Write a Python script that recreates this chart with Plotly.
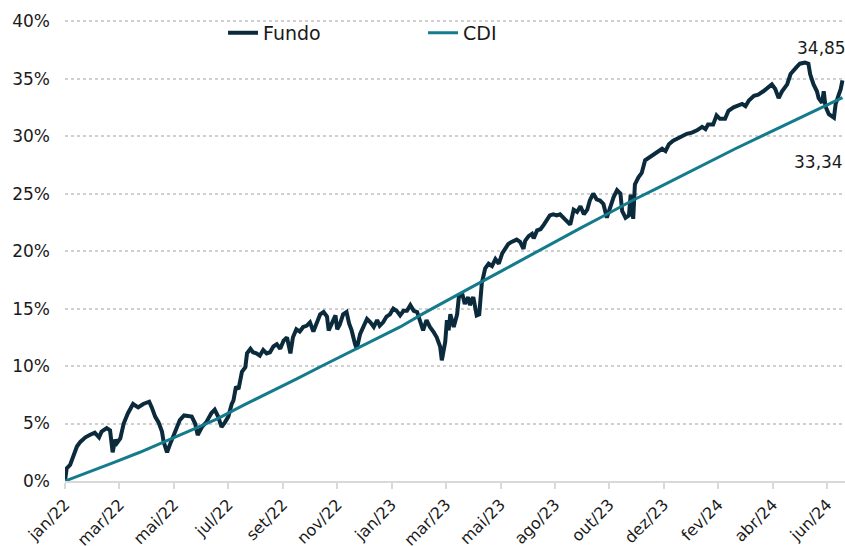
import pandas as pd
import plotly.graph_objects as go

start_date = "2022-01-03"

# Fundo: days since start, cumulative return (%)
fundo_days = [0, 2, 6, 10, 14, 18, 24, 29, 35, 40, 43, 49, 53, 56, 59, 61, 65, 69, 74, 80,
              86, 92, 99, 102, 106, 110, 114, 116, 120, 123, 129, 135, 140, 145, 149, 153, 156, 161, 166, 172,
              176, 180, 184, 188, 192, 196, 198, 201, 204, 208, 212, 214, 218, 221, 225, 229, 233, 237, 241, 245,
              249, 253, 257, 261, 265, 268, 272, 276, 280, 284, 288, 292, 296, 300, 304, 308, 310, 314, 318, 320,
              323, 327, 331, 334, 337, 341, 343, 347, 351, 355, 359, 363, 367, 370, 374, 378, 382, 386, 390, 394,
              398, 402, 406, 410, 414, 417, 421, 425, 429, 433, 437, 441, 443, 447, 449, 451, 453, 457, 461, 463,
              467, 470, 474, 476, 480, 484, 487, 490, 494, 498, 502, 506, 510, 514, 518, 521, 525, 531, 535, 539,
              541, 545, 549, 551, 555, 559, 563, 566, 570, 574, 578, 582, 586, 590, 594, 598, 602, 606, 610, 614,
              617, 621, 625, 629, 633, 637, 641, 645, 649, 653, 655, 659, 663, 665, 668, 670, 674, 678, 682, 686,
              692, 698, 702, 706, 710, 715, 723, 731, 737, 743, 749, 753, 756, 762, 766, 770, 776, 780, 786, 790,
              796, 800, 804, 810, 815, 821, 827, 831, 835, 839, 843, 849, 853, 856, 860, 864, 870, 874, 876, 880,
              884, 886, 890, 892, 894, 898, 904, 906, 910, 912, 914]
fundo_values = [0.0, 1.1, 1.4, 2.1, 3.0, 3.4, 3.8, 4.0, 4.2, 3.8, 4.3, 4.6, 4.4, 2.5, 3.6, 3.3, 3.7, 5.0, 5.9, 6.7,
                6.4, 6.7, 6.9, 6.4, 5.6, 5.1, 4.3, 3.4, 2.5, 3.1, 4.1, 5.3, 5.7, 5.6, 5.6, 5.0, 4.0, 4.7, 5.1, 5.9,
                6.2, 5.6, 4.7, 5.1, 5.6, 6.7, 7.0, 8.2, 8.0, 9.5, 9.9, 11.1, 11.5, 11.2, 11.1, 10.9, 11.4, 11.1, 11.2, 11.7,
                11.9, 11.5, 12.2, 12.5, 11.1, 12.5, 13.2, 13.0, 13.4, 13.5, 13.8, 13.0, 13.7, 14.5, 14.7, 14.3, 13.1, 13.7, 14.4, 13.2,
                13.6, 14.5, 14.7, 13.7, 13.1, 11.9, 11.5, 12.8, 13.4, 14.1, 13.8, 13.4, 14.0, 13.5, 13.8, 14.3, 14.5, 15.0, 14.8, 14.4,
                14.8, 14.8, 15.3, 14.8, 14.7, 14.1, 13.1, 14.0, 13.4, 13.0, 12.5, 11.7, 10.5, 12.1, 14.0, 13.1, 14.5, 13.4, 14.5, 16.0,
                16.3, 15.4, 16.0, 15.3, 16.0, 14.4, 14.5, 17.2, 18.5, 18.9, 18.7, 19.3, 18.9, 19.8, 20.3, 20.6, 20.8, 21.0, 20.8, 20.2,
                20.9, 21.3, 21.5, 21.1, 21.8, 21.9, 22.3, 22.6, 23.1, 23.2, 23.1, 23.2, 22.9, 22.5, 22.3, 23.6, 23.4, 23.9, 23.2, 23.6,
                24.4, 25.0, 24.5, 24.4, 24.1, 22.9, 23.8, 24.7, 25.3, 25.0, 23.5, 22.9, 23.1, 24.9, 22.8, 25.8, 26.4, 26.8, 27.9, 28.1,
                28.4, 28.7, 28.9, 28.7, 29.3, 29.6, 29.9, 30.2, 30.3, 30.5, 30.8, 30.6, 31.0, 31.0, 31.8, 31.5, 31.5, 32.2, 32.5, 32.6,
                32.8, 32.6, 33.1, 33.5, 33.6, 33.9, 34.2, 34.5, 34.1, 33.3, 33.9, 34.5, 35.4, 35.7, 36.0, 36.3, 36.4, 36.3, 35.4, 34.5,
                33.9, 33.3, 32.9, 33.9, 32.6, 31.9, 31.6, 32.8, 33.6, 34.1, 34.85]

# CDI: days since start, cumulative return (%)
cdi_days = [0, 29, 57, 88, 119, 149, 179, 210, 241, 273, 302, 332, 364, 394, 422, 455,
            484, 514, 546, 575, 606, 637, 667, 697, 729, 759, 788, 819, 850, 882, 914]
cdi_values = [0.0, 0.8, 1.6, 2.5, 3.5, 4.4, 5.4, 6.6, 7.7, 8.9, 10.0, 11.1, 12.3, 13.4, 14.6, 15.9,
              17.1, 18.3, 19.6, 20.8, 22.0, 23.2, 24.4, 25.5, 26.7, 27.8, 28.9, 30.0, 31.1, 32.2, 33.34]

tick_labels = ["jan/22", "mar/22", "mai/22", "jul/22", "set/22", "nov/22", "jan/23", "mar/23",
               "mai/23", "ago/23", "out/23", "dez/23", "fev/24", "abr/24", "jun/24"]
tick_step_days = 64
y_ticks = [0, 5, 10, 15, 20, 25, 30, 35, 40]

start = pd.Timestamp(start_date)
fundo_x = start + pd.to_timedelta(fundo_days, unit="D")
cdi_x = start + pd.to_timedelta(cdi_days, unit="D")
tickvals = [start + pd.Timedelta(days=tick_step_days * k) for k in range(len(tick_labels))]

FONT = "DejaVu Sans"
C_FUNDO = "#0b2b3d"
C_CDI = "#137b8b"

fig = go.Figure()
fig.add_trace(go.Scatter(x=fundo_x, y=fundo_values, mode="lines", name="Fundo",
                         line=dict(color=C_FUNDO, width=4)))
fig.add_trace(go.Scatter(x=cdi_x, y=cdi_values, mode="lines", name="CDI",
                         line=dict(color=C_CDI, width=3)))

def fmt(v):
    return f"{v:.2f}".replace(".", ",")

fig.add_annotation(x=fundo_x[-1], y=fundo_values[-1], text=fmt(fundo_values[-1]),
                   showarrow=False, xanchor="right", yanchor="bottom", xshift=6, yshift=20,
                   font=dict(family=FONT, size=17, color="#1a1a1a"))
fig.add_annotation(x=cdi_x[-1], y=cdi_values[-1], text=fmt(cdi_values[-1]),
                   showarrow=False, xanchor="right", yanchor="top", xshift=3, yshift=-52,
                   font=dict(family=FONT, size=17, color="#1a1a1a"))

fig.update_layout(
    width=845, height=546,
    margin=dict(l=65, r=0, t=20, b=65, autoexpand=False),
    paper_bgcolor="white", plot_bgcolor="white",
    font=dict(family=FONT, size=17, color="#1a1a1a"),
    showlegend=True,
    legend=dict(orientation="h", x=0.2026, xanchor="left", y=0.972, yanchor="middle",
                font=dict(family=FONT, size=19, color="#1a1a1a"),
                bgcolor="rgba(0,0,0,0)", entrywidth=155),
)
fig.update_xaxes(
    type="date", automargin=False,
    range=[start, start + pd.Timedelta(days=917)],
    tickvals=tickvals, ticktext=tick_labels, tickangle=-45,
    tickfont=dict(family=FONT, size=16, color="#1a1a1a"),
    showgrid=False, showline=True, linecolor="#d9d9d9", linewidth=2,
    ticks="outside", ticklen=6, tickcolor="#d9d9d9", tickwidth=2,
    zeroline=False,
)
fig.update_yaxes(
    automargin=False,
    range=[0, 40.1], tickvals=y_ticks, ticktext=[f"{v}%" for v in y_ticks],
    tickfont=dict(family=FONT, size=17, color="#1a1a1a"),
    showgrid=True, gridcolor="#d0d0d0", griddash="dot", gridwidth=1.5,
    showline=False, zeroline=False, ticks="", ticklabelstandoff=14,
)

fig.write_html("out.html", config={"displayModeBar": False},
               post_script="document.body.style.margin='0';document.body.style.overflow='hidden';")
